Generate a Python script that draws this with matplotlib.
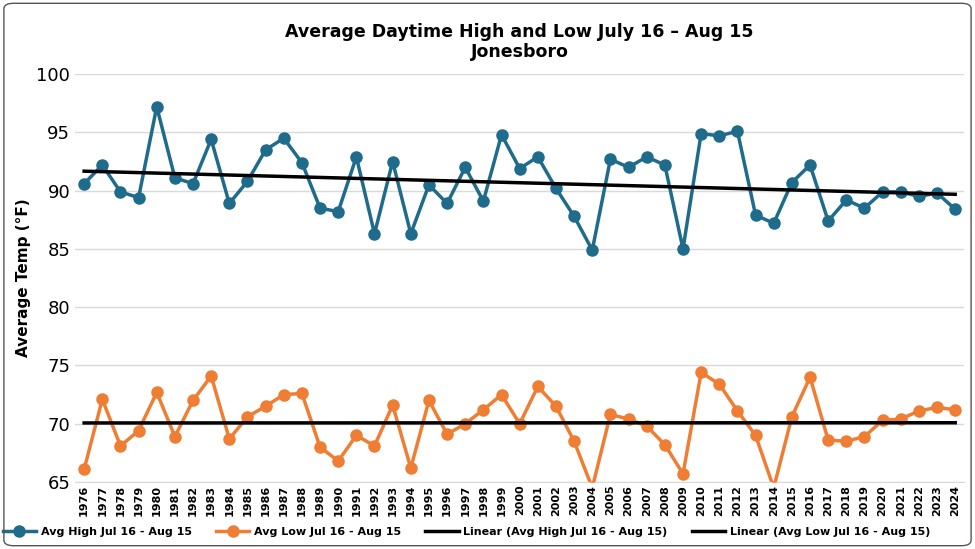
import numpy as np
import matplotlib.pyplot as plt
from matplotlib.patches import FancyBboxPatch

years = list(range(1976, 2025))
avg_high = [90.6, 92.2, 89.9, 89.4, 97.2, 91.1, 90.6, 94.4, 88.9, 90.8,
            93.5, 94.5, 92.4, 88.5, 88.2, 92.9, 86.3, 92.5, 86.3, 90.5,
            88.9, 92.0, 89.1, 94.8, 91.9, 92.9, 90.2, 87.8, 84.9, 92.7,
            92.0, 92.9, 92.2, 85.0, 94.9, 94.7, 95.1, 87.9, 87.2, 90.7,
            92.2, 87.4, 89.2, 88.5, 89.9, 89.9, 89.5, 89.8, 88.4]
avg_low = [66.1, 72.1, 68.1, 69.4, 72.7, 68.9, 72.0, 74.1, 68.7, 70.6,
           71.5, 72.5, 72.6, 68.0, 66.8, 69.0, 68.1, 71.6, 66.2, 72.0,
           69.1, 70.0, 71.2, 72.5, 70.0, 73.2, 71.5, 68.5, 64.5, 70.8,
           70.4, 69.8, 68.2, 65.7, 74.4, 73.4, 71.1, 69.0, 64.5, 70.6,
           74.0, 68.6, 68.5, 68.9, 70.3, 70.4, 71.1, 71.4, 71.2]

blue = '#1f6b8c'
orange = '#ef7d33'

fig = plt.figure(figsize=(9.75, 5.49), dpi=100)
fig.patches.append(FancyBboxPatch((0.004, 0.006), 0.992, 0.988, boxstyle='round,pad=0,rounding_size=0.01',
                                  transform=fig.transFigure, fill=False, edgecolor='#555555', lw=1))
ax = fig.add_axes([0.077, 0.122, 0.912, 0.743])

x = np.arange(len(years))
ax.plot(x, avg_high, '-o', color=blue, lw=2.5, ms=8, label='Avg High Jul 16 - Aug 15', zorder=3)
ax.plot(x, avg_low, '-o', color=orange, lw=2.5, ms=8, label='Avg Low Jul 16 - Aug 15', zorder=3)

for vals, lbl in [(avg_high, 'Linear (Avg High Jul 16 - Aug 15)'), (avg_low, 'Linear (Avg Low Jul 16 - Aug 15)')]:
    m, b = np.polyfit(x, vals, 1)
    ax.plot(x, m * x + b, color='black', lw=2.5, label=lbl, zorder=4)

ax.set_ylim(65, 100)
ax.set_xlim(-0.5, len(years) - 0.5)
ax.set_yticks(range(65, 101, 5))
ax.set_xticks(x)
ax.set_xticklabels(years, rotation=90, fontsize=8, fontweight='bold')
ax.tick_params(axis='y', labelsize=13, length=0)
ax.tick_params(axis='x', length=0, pad=2)
ax.grid(axis='y', color='#d9d9d9', lw=1)
ax.set_axisbelow(True)
for s in ['top', 'right', 'left']:
    ax.spines[s].set_visible(False)
ax.spines['bottom'].set_color('#d9d9d9')
ax.set_ylabel('Average Temp (°F)', fontsize=11, fontweight='bold')
ax.set_title('Average Daytime High and Low July 16 – Aug 15\nJonesboro', fontsize=12.5, fontweight='bold', pad=12)
ax.legend(loc='upper center', bbox_to_anchor=(0.44, -0.085), ncol=4, frameon=False,
          prop={'size': 8, 'weight': 'bold'}, handlelength=3, columnspacing=2.2, handletextpad=0.4)

fig.savefig('out.png', dpi=100)
